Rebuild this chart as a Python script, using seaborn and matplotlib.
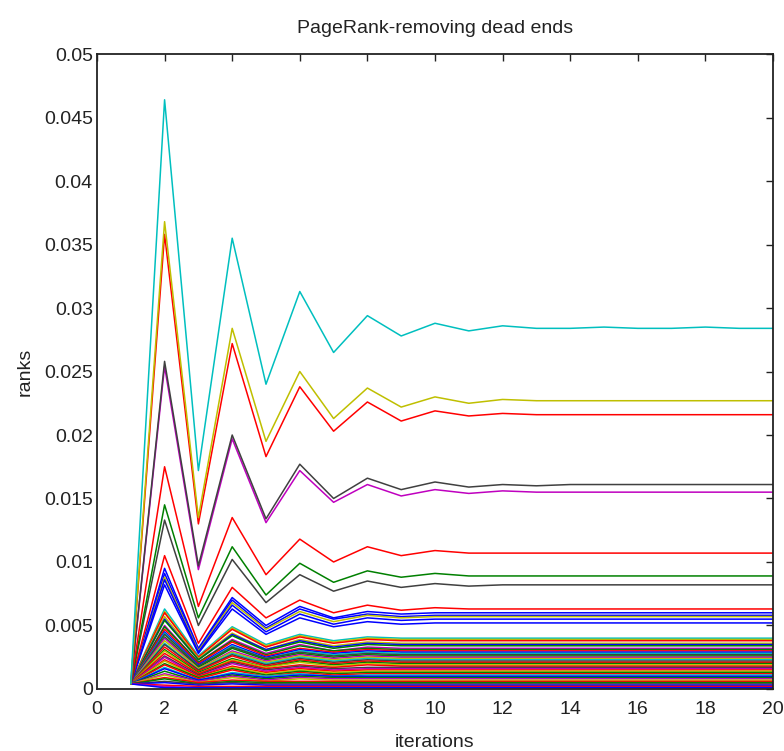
import numpy as np
import pandas as pd
import matplotlib
matplotlib.use("Agg")
import matplotlib.pyplot as plt
import seaborn as sns

# PageRank values per iteration, stored in units of 1e-4
iterations = list(range(1, 21))

cyan_top = [4, 464, 172, 355, 240, 313, 265, 294, 278, 288, 282, 286, 284, 284, 285, 284, 284, 285, 284, 284]
yellow_top = [4, 368, 135, 284, 195, 250, 213, 237, 222, 230, 225, 228, 227, 227, 227, 227, 227, 227, 227, 227]
red_top = [4, 358, 130, 272, 183, 238, 203, 226, 211, 219, 215, 217, 216, 216, 216, 216, 216, 216, 216, 216]
black_mid = [4, 258, 97, 200, 134, 177, 150, 166, 157, 163, 159, 161, 160, 161, 161, 161, 161, 161, 161, 161]
magenta_mid = [4, 254, 94, 197, 131, 172, 147, 161, 152, 157, 154, 156, 155, 155, 155, 155, 155, 155, 155, 155]
red_mid = [4, 175, 65, 135, 90, 118, 100, 112, 105, 109, 107, 107, 107, 107, 107, 107, 107, 107, 107, 107]
green_mid = [4, 145, 56, 112, 74, 99, 84, 93, 88, 91, 89, 89, 89, 89, 89, 89, 89, 89, 89, 89]
black_low = [4, 133, 50, 102, 68, 90, 77, 85, 80, 83, 81, 82, 82, 82, 82, 82, 82, 82, 82, 82]
red_low = [4, 105, 36, 80, 56, 70, 60, 66, 62, 64, 63, 63, 63, 63, 63, 63, 63, 63, 63, 63]

blue_cluster = [
    [4, 95, 32, 72, 50, 65, 56, 61, 59, 60, 60, 60, 60, 60, 60, 60, 60, 60, 60, 60],
    [4, 91, 31, 70, 48, 63, 55, 59, 57, 58, 58, 58, 58, 58, 58, 58, 58, 58, 58, 58],
    [4, 88, 30, 68, 47, 61, 53, 58, 56, 57, 57, 57, 57, 57, 57, 57, 57, 57, 57, 57],
    [4, 86, 29, 66, 45, 59, 51, 56, 54, 55, 55, 55, 55, 55, 55, 55, 55, 55, 55, 55],
    [4, 82, 28, 63, 43, 56, 49, 53, 51, 52, 52, 52, 52, 52, 52, 52, 52, 52, 52, 52],
]

low_band = [
    [4, 63, 26, 49, 35, 43, 38, 41, 40, 40, 40, 40, 40, 40, 40, 40, 40, 40, 40, 40],
    [4, 61, 25, 48, 34, 42, 37, 40, 39, 39, 39, 39, 39, 39, 39, 39, 39, 39, 39, 39],
    [4, 60, 25, 47, 33, 41, 36, 39, 38, 38, 38, 38, 38, 38, 38, 38, 38, 38, 38, 38],
    [4, 57, 24, 44, 31, 39, 34, 37, 36, 36, 36, 36, 36, 36, 36, 36, 36, 36, 36, 36],
    [4, 55, 23, 43, 31, 38, 33, 36, 35, 35, 35, 35, 35, 35, 35, 35, 35, 35, 35, 35],
    [4, 54, 23, 42, 30, 37, 32, 35, 34, 34, 34, 34, 34, 34, 34, 34, 34, 34, 34, 34],
    [4, 50, 21, 39, 28, 35, 30, 33, 32, 32, 32, 32, 32, 32, 32, 32, 32, 32, 32, 32],
    [4, 49, 21, 38, 27, 34, 30, 32, 31, 31, 31, 31, 31, 31, 31, 31, 31, 31, 31, 31],
    [4, 47, 20, 37, 26, 32, 29, 31, 30, 30, 30, 30, 30, 30, 30, 30, 30, 30, 30, 30],
    [4, 45, 19, 35, 25, 31, 28, 30, 29, 29, 29, 29, 29, 29, 29, 29, 29, 29, 29, 29],
    [4, 44, 18, 34, 24, 30, 27, 29, 28, 28, 28, 28, 28, 28, 28, 28, 28, 28, 28, 28],
    [4, 43, 18, 33, 24, 29, 26, 28, 27, 27, 27, 27, 27, 27, 27, 27, 27, 27, 27, 27],
    [4, 41, 17, 32, 23, 28, 25, 27, 26, 26, 26, 26, 26, 26, 26, 26, 26, 26, 26, 26],
    [4, 40, 16, 30, 22, 27, 24, 26, 25, 25, 25, 25, 25, 25, 25, 25, 25, 25, 25, 25],
    [4, 38, 16, 29, 21, 26, 23, 25, 24, 24, 24, 24, 24, 24, 24, 24, 24, 24, 24, 24],
    [4, 36, 15, 28, 20, 25, 22, 24, 23, 23, 23, 23, 23, 23, 23, 23, 23, 23, 23, 23],
    [4, 35, 15, 27, 19, 24, 21, 23, 22, 22, 22, 22, 22, 22, 22, 22, 22, 22, 22, 22],
    [4, 33, 14, 26, 18, 23, 20, 22, 21, 21, 21, 21, 21, 21, 21, 21, 21, 21, 21, 21],
    [4, 31, 13, 24, 17, 22, 19, 21, 20, 20, 20, 20, 20, 20, 20, 20, 20, 20, 20, 20],
    [4, 30, 12, 23, 17, 21, 18, 20, 19, 19, 19, 19, 19, 19, 19, 19, 19, 19, 19, 19],
    [4, 28, 12, 22, 16, 19, 17, 19, 18, 18, 18, 18, 18, 18, 18, 18, 18, 18, 18, 18],
    [4, 26, 11, 21, 15, 18, 16, 17, 17, 17, 17, 17, 17, 17, 17, 17, 17, 17, 17, 17],
    [4, 25, 10, 20, 14, 17, 15, 16, 16, 16, 16, 16, 16, 16, 16, 16, 16, 16, 16, 16],
    [4, 23, 10, 18, 13, 16, 14, 15, 15, 15, 15, 15, 15, 15, 15, 15, 15, 15, 15, 15],
    [4, 22, 9, 17, 12, 15, 13, 14, 14, 14, 14, 14, 14, 14, 14, 14, 14, 14, 14, 14],
    [4, 20, 9, 16, 11, 14, 12, 13, 13, 13, 13, 13, 13, 13, 13, 13, 13, 13, 13, 13],
    [4, 19, 8, 15, 10, 13, 11, 12, 12, 12, 12, 12, 12, 12, 12, 12, 12, 12, 12, 12],
    [4, 17, 7, 13, 10, 12, 10, 11, 11, 11, 11, 11, 11, 11, 11, 11, 11, 11, 11, 11],
    [4, 16, 7, 12, 9, 11, 10, 10, 10, 10, 10, 10, 10, 10, 10, 10, 10, 10, 10, 10],
    [4, 14, 6, 11, 8, 10, 9, 9, 9, 9, 9, 9, 9, 9, 9, 9, 9, 9, 9, 9],
    [4, 12, 6, 10, 7, 9, 8, 8, 8, 8, 8, 8, 8, 8, 8, 8, 8, 8, 8, 8],
    [4, 11, 5, 9, 6, 8, 7, 7, 7, 7, 7, 7, 7, 7, 7, 7, 7, 7, 7, 7],
    [4, 9, 5, 7, 6, 6, 6, 6, 6, 6, 6, 6, 6, 6, 6, 6, 6, 6, 6, 6],
    [4, 8, 4, 6, 5, 5, 5, 5, 5, 5, 5, 5, 5, 5, 5, 5, 5, 5, 5, 5],
    [4, 6, 4, 5, 4, 4, 4, 4, 4, 4, 4, 4, 4, 4, 4, 4, 4, 4, 4, 4],
    [4, 5, 3, 4, 3, 3, 3, 3, 3, 3, 3, 3, 3, 3, 3, 3, 3, 3, 3, 3],
    [4, 3, 2, 2, 2, 2, 2, 2, 2, 2, 2, 2, 2, 2, 2, 2, 2, 2, 2, 2],
    [4, 2, 1, 1, 1, 1, 1, 1, 1, 1, 1, 1, 1, 1, 1, 1, 1, 1, 1, 1],
    [4, 1, 1, 1, 1, 1, 1, 1, 1, 1, 1, 1, 1, 1, 1, 1, 1, 1, 1, 1],
]

# MATLAB default line colours
ML = {
    "b": (0, 0, 1), "g": (0, 0.5, 0), "r": (1, 0, 0), "c": (0, 0.75, 0.75),
    "m": (0.75, 0, 0.75), "y": (0.75, 0.75, 0), "k": (0.25, 0.25, 0.25),
}
low_colors = "cyrybgmgrbckgmyckrgyrkmrygrcbgmyrgkbrmb"
blue_colors = "bbybb"

series = []
colors = []
for s, c in zip(low_band, low_colors):
    series.append(s)
    colors.append(ML[c])
for s, c in zip(blue_cluster, blue_colors):
    series.append(s)
    colors.append(ML[c])
for s, c in [(red_low, "r"), (black_low, "k"), (green_mid, "g"), (red_mid, "r"),
             (magenta_mid, "m"), (black_mid, "k"), (red_top, "r"),
             (yellow_top, "y"), (cyan_top, "c")]:
    series.append(s)
    colors.append(ML[c])

rows = []
for i, s in enumerate(series):
    for it, v in zip(iterations, s):
        rows.append({"page": f"p{i}", "iteration": it, "rank": v * 1e-4})
df = pd.DataFrame(rows)

sns.set_style("white")
plt.rcParams["font.family"] = ["Liberation Sans", "DejaVu Sans"]

fig = plt.figure(figsize=(7.84, 7.51), dpi=100)
ax = fig.add_axes([0.1237, 0.0826, 0.8623, 0.8454])

sns.lineplot(data=df, x="iteration", y="rank", hue="page", palette=colors,
             legend=False, linewidth=1.1, ax=ax, estimator=None)

ax.set_xlim(0, 20)
ax.set_ylim(0, 0.05)
ax.set_xticks(range(0, 21, 2))
yt = [0, 0.005, 0.01, 0.015, 0.02, 0.025, 0.03, 0.035, 0.04, 0.045, 0.05]
ax.set_yticks(yt)
ax.set_yticklabels(["0", "0.005", "0.01", "0.015", "0.02", "0.025", "0.03",
                    "0.035", "0.04", "0.045", "0.05"])
ax.tick_params(direction="in", length=5, width=1, top=True, right=True,
               labelsize=14, colors="#222222")
ax.tick_params(axis="x", pad=9)
ax.tick_params(axis="y", pad=3)
for sp in ax.spines.values():
    sp.set_color("#222222")
    sp.set_linewidth(1.3)

ax.set_title("PageRank-removing dead ends", fontsize=14, pad=15, color="#222222")
ax.set_xlabel("iterations", fontsize=14, labelpad=11, color="#222222")
ax.set_ylabel("ranks", fontsize=14, labelpad=7, color="#222222")

fig.savefig("out.png", dpi=100)
